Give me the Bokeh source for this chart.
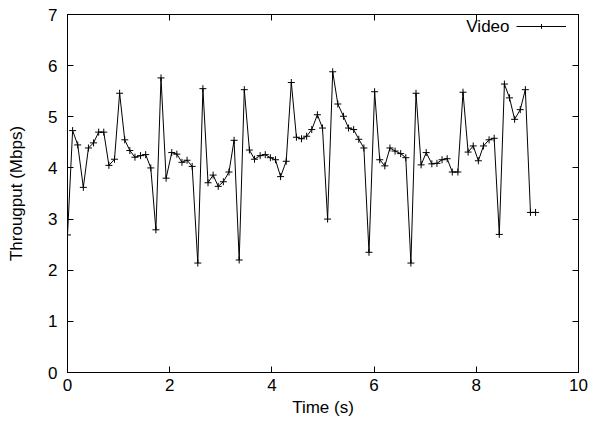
from bokeh.plotting import figure
from bokeh.models import (LinearAxis, FixedTicker, Range1d, Legend, LegendItem,
                          Label, CustomJSTickFormatter)
from bokeh.core.properties import value
from bokeh.embed import file_html
from bokeh.resources import INLINE

# ---- data ----
time_s = [0.00, 0.10, 0.20, 0.31, 0.41, 0.51, 0.61, 0.71, 0.81, 0.92,
          1.02, 1.12, 1.22, 1.32, 1.43, 1.53, 1.63, 1.73, 1.83, 1.93,
          2.04, 2.14, 2.24, 2.34, 2.44, 2.55, 2.65, 2.75, 2.85, 2.95,
          3.05, 3.16, 3.26, 3.36, 3.46, 3.56, 3.66, 3.77, 3.87, 3.97,
          4.07, 4.17, 4.28, 4.38, 4.48, 4.58, 4.68, 4.78, 4.89, 4.99,
          5.09, 5.19, 5.29, 5.40, 5.50, 5.60, 5.70, 5.80, 5.90, 6.01,
          6.11, 6.21, 6.31, 6.41, 6.52, 6.62, 6.72, 6.82, 6.92, 7.02,
          7.13, 7.23, 7.33, 7.43, 7.53, 7.64, 7.74, 7.84, 7.94, 8.04,
          8.14, 8.25, 8.35, 8.45, 8.55, 8.65, 8.75, 8.86, 8.96, 9.06,
          9.16]
throughput = [2.69, 4.73, 4.45, 3.62, 4.39, 4.49, 4.70, 4.70, 4.05, 4.17,
              5.46, 4.55, 4.34, 4.21, 4.24, 4.26, 4.00, 2.79, 5.76, 3.80,
              4.30, 4.27, 4.11, 4.15, 4.03, 2.14, 5.55, 3.71, 3.86, 3.64,
              3.73, 3.92, 4.54, 2.20, 5.53, 4.35, 4.17, 4.24, 4.26, 4.20,
              4.16, 3.83, 4.13, 5.67, 4.60, 4.57, 4.62, 4.75, 5.04, 4.78,
              3.00, 5.88, 5.25, 5.01, 4.78, 4.75, 4.56, 4.39, 2.35, 5.49,
              4.16, 4.04, 4.39, 4.33, 4.28, 4.20, 2.14, 5.46, 4.06, 4.30,
              4.08, 4.09, 4.16, 4.18, 3.92, 3.92, 5.48, 4.31, 4.43, 4.14,
              4.43, 4.55, 4.58, 2.70, 5.64, 5.37, 4.95, 5.14, 5.53, 3.13,
              3.13]
x_ticks = [0, 2, 4, 6, 8, 10]
y_ticks = [0, 1, 2, 3, 4, 5, 6, 7]
series_name = "Video"

FONT = "Liberation Sans"
FS = "17px"

p = figure(frame_width=511, frame_height=358, output_backend="svg",
           toolbar_location=None, x_range=Range1d(0, 10), y_range=Range1d(0, 7),
           min_border_left=67, min_border_right=16, min_border_top=14,
           min_border_bottom=40)
p.xgrid.visible = False
p.ygrid.visible = False
p.outline_line_color = "black"
p.background_fill_color = "white"
p.border_fill_color = "white"

def style_axis(ax, ticks, show_labels=True):
    ax.ticker = FixedTicker(ticks=ticks)
    ax.minor_tick_line_color = None
    ax.major_tick_in = 6
    ax.major_tick_out = 0
    ax.axis_line_color = "black"
    ax.major_tick_line_color = "black"
    ax.major_label_text_font = FONT
    ax.major_label_text_font_size = FS
    ax.major_label_text_color = "black"
    ax.axis_label_text_font = FONT
    ax.axis_label_text_font_size = FS
    ax.axis_label_text_font_style = "normal"
    ax.axis_label_text_color = "black"
    if not show_labels:
        ax.formatter = CustomJSTickFormatter(code="return ''")
        ax.major_label_text_font_size = "0px"
        ax.major_label_standoff = 0

xa = p.xaxis[0]
ya = p.yaxis[0]
style_axis(xa, x_ticks)
style_axis(ya, y_ticks)
xa.axis_label = "Time (s)"
ya.axis_label = "Througput (Mbps)"
xa.major_label_standoff = 6
xa.axis_label_standoff = 4
ya.major_label_standoff = 10
ya.axis_label_standoff = 19

top = LinearAxis()
right = LinearAxis()
style_axis(top, x_ticks, show_labels=False)
style_axis(right, y_ticks, show_labels=False)
p.add_layout(top, "above")
p.add_layout(right, "right")

ln = p.line(time_s, throughput, line_color="black", line_width=1)
sc = p.scatter(time_s, throughput, marker="cross", size=7,
               line_color="black", line_width=1)

legend = Legend(items=[LegendItem(label=value(" "), renderers=[ln, sc])],
                location="top_right", glyph_width=50, glyph_height=12,
                label_width=6, label_height=12, label_standoff=0,
                label_text_font_size="1px", padding=0, margin=6,
                border_line_color=None, background_fill_alpha=0)
p.add_layout(legend)

lab = Label(x=442, y=346, x_units="screen", y_units="screen", text=series_name,
            text_align="right", text_baseline="middle",
            text_font=FONT, text_font_size=FS, text_color="black")
p.add_layout(lab)

open("out.html", "w").write(file_html(p, INLINE))
